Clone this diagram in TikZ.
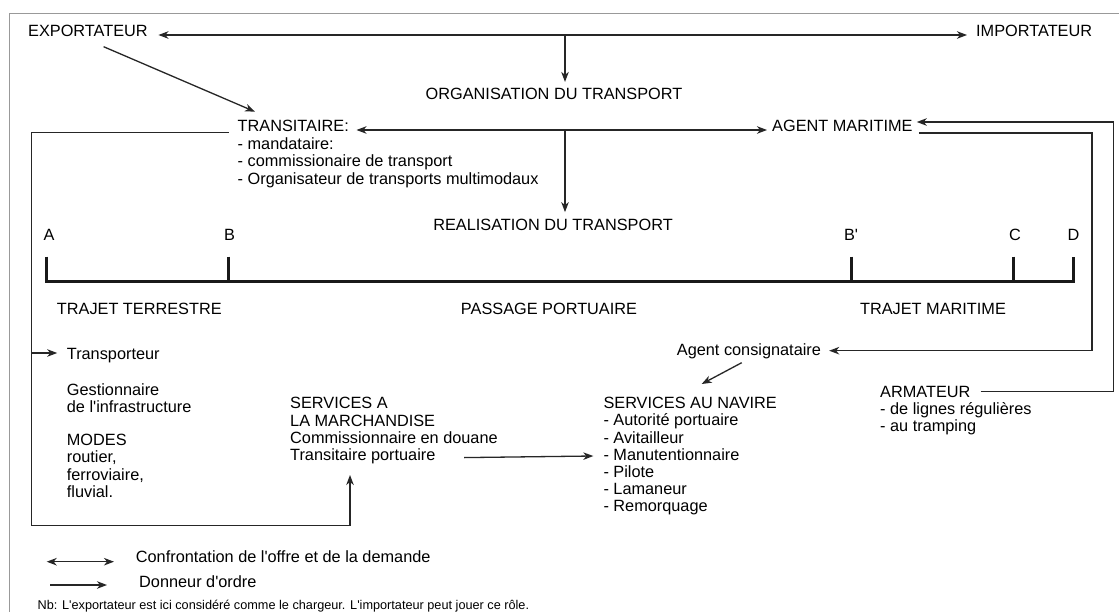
\documentclass[tikz,border=0pt]{standalone}
\usepackage{fontspec}
\setmainfont{Liberation Sans}[Ligatures=TeXOff]
\usetikzlibrary{arrows.meta,calc}
\tikzset{
  txt/.style={inner sep=0pt, font=\fontsize{16.3}{17.3}\selectfont, anchor=base west, text=black},
  small/.style={txt, font=\fontsize{12.7}{14}\selectfont},
  conn/.style={line width=1.3pt, draw=black!85},
  tip/.style={},
  arr/.style={conn, -{Stealth[length=10pt,width=7.5pt,inset=3pt]}},
  dbl/.style={conn, {Stealth[length=10pt,width=7.5pt,inset=3pt]}-{Stealth[length=10pt,width=7.5pt,inset=3pt]}},
  bar/.style={line width=3pt, draw=black!90},
  frame/.style={line width=1pt, draw=black!40}
}
\begin{document}
\begin{tikzpicture}[x=1pt,y=-1pt]
\useasboundingbox (0,0) rectangle (1119,612);
\fill[white] (0,0) rectangle (1119,612);
% frame
\draw[frame] (9.5,612) -- (9.5,13.5) -- (1119,13.5);

% top actors
\node[txt] (exp) at (28,36.5) {EXPORTATEUR};
\node[txt] (imp) at (976,36.5) {IMPORTATEUR};
\node[txt,anchor=base] (org) at (554,99.5) {ORGANISATION DU TRANSPORT};
\node[txt] (trans) at (237.5,132) {TRANSITAIRE:};
\node[txt] (mand) at (237.5,149.5) {- mandataire:};
\node[txt] (comm) at (237.5,167) {- commissionaire de transport};
\node[txt] (omt) at (237.5,184.5) {- Organisateur de transports multimodaux};
\node[txt] (agm) at (772,132) {AGENT MARITIME};
\node[txt,anchor=base] (real) at (553,230.7) {REALISATION DU TRANSPORT};

% timeline
\node[txt,anchor=base] (lA) at (49,241) {A};
\node[txt,anchor=base] (lB) at (229.5,241) {B};
\node[txt,anchor=base] (lBp) at (851,241) {B'};
\node[txt,anchor=base] (lC) at (1015,241) {C};
\node[txt,anchor=base] (lD) at (1073.5,241) {D};
\coordinate (tA) at (46.7,281.7);
\coordinate (tB) at (228,281.7);
\coordinate (tBp) at (851,281.7);
\coordinate (tC) at (1013,281.7);
\coordinate (tD) at (1073.6,281.7);
\draw[bar] ($(tA)+(0,-25)$) -- (tA) -- (tD) -- ($(tD)+(0,-25)$);
\draw[bar] ($(tB)+(0,-25)$) -- (tB);
\draw[bar] ($(tBp)+(0,-25)$) -- (tBp);
\draw[bar] ($(tC)+(0,-25)$) -- (tC);

\node[txt] (tt) at (56.7,315) {TRAJET TERRESTRE};
\node[txt,anchor=base] (pp) at (549,315) {PASSAGE PORTUAIRE};
\node[txt,anchor=base] (tm) at (933,315) {TRAJET MARITIME};

% land column
\node[txt] (transp) at (66.7,359) {Transporteur};
\node[txt] (gest) at (66.7,395.5) {Gestionnaire};
\node[txt] (infra) at (66.7,412) {de l'infrastructure};
\node[txt] (modes) at (66.7,445.5) {MODES};
\node[txt] (rout) at (66.7,462.8) {routier,};
\node[txt] (ferro) at (66.7,480.1) {ferroviaire,};
\node[txt] (fluv) at (66.7,497.4) {fluvial.};

% services a la marchandise
\node[txt] (sam) at (290,408.7) {SERVICES A};
\node[txt] (lam) at (290,426) {LA MARCHANDISE};
\node[txt] (cd) at (290,443.3) {Commissionnaire en douane};
\node[txt] (tp) at (290,460.6) {Transitaire portuaire};

% services au navire
\node[txt] (cons) at (676.7,355.7) {Agent consignataire};
\node[txt] (san) at (603.3,408.7) {SERVICES AU NAVIRE};
\node[txt] (aut) at (603.3,425.9) {- Autorité portuaire};
\node[txt] (avi) at (603.3,443.1) {- Avitailleur};
\node[txt] (manu) at (603.3,460.3) {- Manutentionnaire};
\node[txt] (pil) at (603.3,477.5) {- Pilote};
\node[txt] (lama) at (603.3,494.7) {- Lamaneur};
\node[txt] (rem) at (603.3,511.9) {- Remorquage};

% armateur
\node[txt] (arm) at (880,397.4) {ARMATEUR};
\node[txt] (lig) at (880,414.6) {- de lignes régulières};
\node[txt] (tramp) at (880,431.8) {- au tramping};

% connectors
\draw[dbl] ($(exp.base east)+(10.5,-1.5)$) -- ($(imp.base west)+(-9,-1.5)$);
\coordinate (o1) at (565,35);
\draw[arr] (o1) -- ($(o1 |- org.north)+(0,-6)$);
\draw[arr] ($(exp.base west)+(75.6,10.2)$) -- ($(trans.base west)+(17.5,-20.3)$);
\draw[dbl] ($(trans.base east)+(7.5,-2)$) -- ($(agm.base west)+(-5,-2)$);
\coordinate (o2) at (565,130);
\draw[arr] (o2) -- ($(o2 |- real.north)+(0,-7)$);

\coordinate (lbot) at (31.5,525.7);
\draw[arr] ($(trans.base west)+(-9,0.7)$) -| (lbot) -| ($(tp.base west)+(60,14.4)$);
\draw[arr] ($(transp.base west)+(-35.2,-6)$) -- ($(transp.base west)+(-9.5,-6)$);
\draw[arr] ($(tp.base east)+(28.5,-3)$) -- ($(manu.base west)+(-10,-4.3)$);

\coordinate (rr) at (1113.6,122);
\draw[arr] ($(arm.base east)+(10,-6)$) -| (rr) -- ($(agm.base east)+(4,-10)$);
\coordinate (rl) at (1092,350.7);
\draw[arr] ($(agm.base east)+(6,1)$) -| (rl) -- ($(cons.base east)+(8,-5)$);
\draw[arr] ($(cons.base west)+(65,7)$) -- ($(san.base west)+(98.4,-24.7)$);

% legend
\coordinate (l1a) at (46.7,561.7);
\coordinate (l1b) at (114,561.7);
\draw[dbl] (l1a) -- (l1b);
\node[txt] (leg1) at (135.7,562.4) {Confrontation de l'offre et de la demande};
\coordinate (l2a) at (50,585);
\coordinate (l2b) at (107,585);
\draw[arr] (l2a) -- (l2b);
\node[txt] (leg2) at (139,587.4) {Donneur d'ordre};
\node[small] (nb) at (37.5,609.3) {Nb: L'exportateur est ici considéré comme le chargeur. L'importateur peut jouer ce rôle.};
\end{tikzpicture}
\end{document}
